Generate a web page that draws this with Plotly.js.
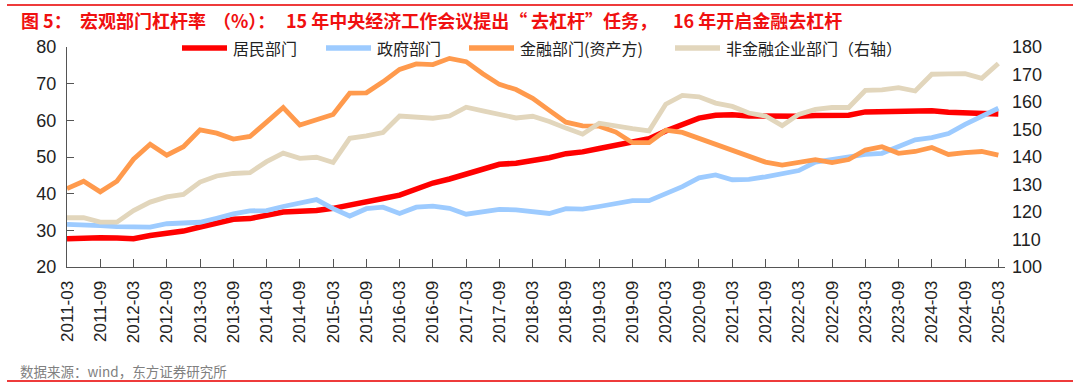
<!DOCTYPE html>
<html>
<head>
<meta charset="utf-8">
<script src="https://cdn.plot.ly/plotly-3.0.1.min.js"></script>
<style>html,body{margin:0;padding:0;background:#fff;}#chart{width:1080px;height:387px;}</style>
</head>
<body>
<div id="chart"></div>
<script>
// quarters 2011-03 .. 2025-03
const quarters = [];
for (let y = 2011; y <= 2025; y++) {
  for (const m of ['03','06','09','12']) {
    if (y === 2025 && m !== '03') break;
    quarters.push(y + '-' + m);
  }
}
const tickLabels = quarters.filter((q, i) => i % 2 === 0);

const household = [27.7,28.0,28.0,27.9,27.7,28.6,29.3,29.8,30.9,32.1,33.0,33.2,34.1,35.0,35.2,35.4,36.0,36.8,37.8,38.7,39.6,41.2,42.9,44.0,45.4,46.8,48.0,48.3,49.0,49.8,50.9,51.4,52.3,53.2,54.1,55.0,57.1,59.0,60.6,61.4,61.5,61.2,61.1,61.1,61.1,61.3,61.4,61.4,62.3,62.4,62.4,62.3,62.6,62.2,62.0,61.8,61.7];
const government = [31.6,31.6,31.3,31.0,31.0,30.9,31.8,32.0,32.2,33.3,34.5,35.3,35.4,36.5,37.5,38.4,35.9,33.9,35.9,36.3,34.6,36.3,36.6,36.0,34.4,34.9,35.7,35.6,35.0,34.6,35.9,35.8,36.5,37.3,38.1,38.1,40.1,41.9,44.3,45.1,43.8,43.9,44.6,45.4,46.3,48.6,49.3,50.0,50.7,51.0,52.7,54.7,55.3,56.4,58.9,61.1,63.3];
const financial = [41.4,43.4,40.5,43.4,49.4,53.5,50.5,52.8,57.4,56.5,54.9,55.6,59.5,63.5,58.7,60.0,61.6,67.4,67.5,70.5,73.9,75.4,75.2,76.9,76.0,72.7,69.8,68.4,66.0,62.7,59.5,58.5,58.4,56.8,53.9,53.9,57.3,56.7,55.1,53.6,51.9,50.5,48.6,47.8,48.5,49.3,48.5,49.3,51.9,52.8,51.0,51.5,52.6,50.7,51.2,51.5,50.5];
const nonFinancial = [117.9,117.9,116.3,116.3,120.5,123.6,125.5,126.4,130.9,133.1,134.0,134.3,138.3,141.4,139.5,139.9,138.0,146.8,147.7,148.9,154.9,154.4,154.1,154.9,158.1,156.8,155.6,154.2,154.8,152.9,150.5,148.3,152.3,151.1,150.3,149.5,159.2,162.4,161.9,159.6,158.4,156.0,154.9,151.4,155.5,157.3,158.0,158.0,164.2,164.4,165.2,164.0,170.1,170.2,170.3,168.6,174.0];

const seriesNames = ['居民部门','政府部门','金融部门(资产方)','非金融企业部门（右轴）'];
const seriesColors = ['#ff0000','#9dcbff','#ff9a4d','#e2d6bc'];
const titleParts = ['图 5：','宏观部门杠杆率','（%）：','15 年中央经济工作会议提出“','去杠杆”任务，','16 年开启金融去杠杆'];
const sourceText = '数据来源：wind，东方证券研究所';

const M = {l:67, r:75, t:47, b:120};
const PW = 1080 - M.l - M.r, PH = 387 - M.t - M.b;
const px = v => (v - M.l) / PW;
const py = v => (387 - M.b - v) / PH;

const FONT = 'Liberation Sans, Arial, Noto Sans CJK SC, sans-serif';
const CJK = 'Noto Sans CJK SC, Liberation Sans, sans-serif';

const widths = [5.5, 4.8, 4.8, 4.8];
const dataSets = [household, government, financial, nonFinancial];
const traces = dataSets.map((d, i) => ({
  x: quarters, y: d, name: seriesNames[i], type:'scatter', mode:'lines',
  yaxis: i === 3 ? 'y2' : 'y', showlegend:false,
  line:{color: seriesColors[i], width: widths[i]}
}));

// legend (drawn manually to match item spacing)
const legendLineX = [182, 326, 469, 675];
const legendY = 48;
const shapes = [
  {type:'line', xref:'paper', yref:'paper', x0:px(7), x1:px(1073), y0:py(5), y1:py(5), line:{color:'#ee3b3b', width:2}},
  {type:'line', xref:'paper', yref:'paper', x0:px(7), x1:px(1073), y0:py(381), y1:py(381), line:{color:'#ee3b3b', width:2}}
];
const annotations = [];
legendLineX.forEach((lx, i) => {
  shapes.push({type:'line', xref:'paper', yref:'paper', x0:px(lx), x1:px(lx+45), y0:py(legendY), y1:py(legendY),
               line:{color: seriesColors[i], width: 5.5}});
  annotations.push({text: seriesNames[i], xref:'paper', yref:'paper', x:px(lx+49), y:py(legendY),
                    xanchor:'left', yanchor:'middle', showarrow:false,
                    font:{family:CJK, size:16, color:'#222'}});
});

const titleX = [19, 78, 211, 284, 529, 671];
titleParts.forEach((t, i) => {
  annotations.push({text: t, xref:'paper', yref:'paper', x:px(titleX[i]), y:py(20),
                    xanchor:'left', yanchor:'middle', showarrow:false,
                    font:{family:CJK, size:18, color:'#f01010', weight:'bold'}});
});
annotations.push({text: sourceText, xref:'paper', yref:'paper', x:px(18), y:py(371), xanchor:'left', yanchor:'middle',
                  showarrow:false, font:{family:CJK, size:13.5, color:'#808080'}});

const layout = {
  width:1080, height:387,
  margin:M,
  paper_bgcolor:'#fff', plot_bgcolor:'#fff',
  showlegend:false,
  xaxis:{type:'category', range:[0, 56.4], tickmode:'array', tickvals:tickLabels, ticktext:tickLabels,
         tickangle:-90, ticks:'inside', ticklen:8, tickcolor:'#555', showline:true, linecolor:'#555', linewidth:1,
         showgrid:false, zeroline:false, tickfont:{family:FONT, size:17, color:'#222'}, ticklabelstandoff:6},
  yaxis:{range:[20,80], dtick:10, ticks:'inside', ticklen:7, tickcolor:'#555', showline:true, linecolor:'#555',
         linewidth:1, showgrid:false, zeroline:false, tickfont:{family:FONT, size:18, color:'#222'}, ticklabelstandoff:6},
  yaxis2:{range:[100,180], dtick:10, overlaying:'y', side:'right', showline:false, ticks:'', showgrid:false,
          zeroline:false, tickfont:{family:FONT, size:18, color:'#222'}, ticklabelstandoff:6},
  shapes: shapes,
  annotations: annotations
};

Plotly.newPlot('chart', traces, layout, {displayModeBar:false, staticPlot:true});
</script>
</body>
</html>
